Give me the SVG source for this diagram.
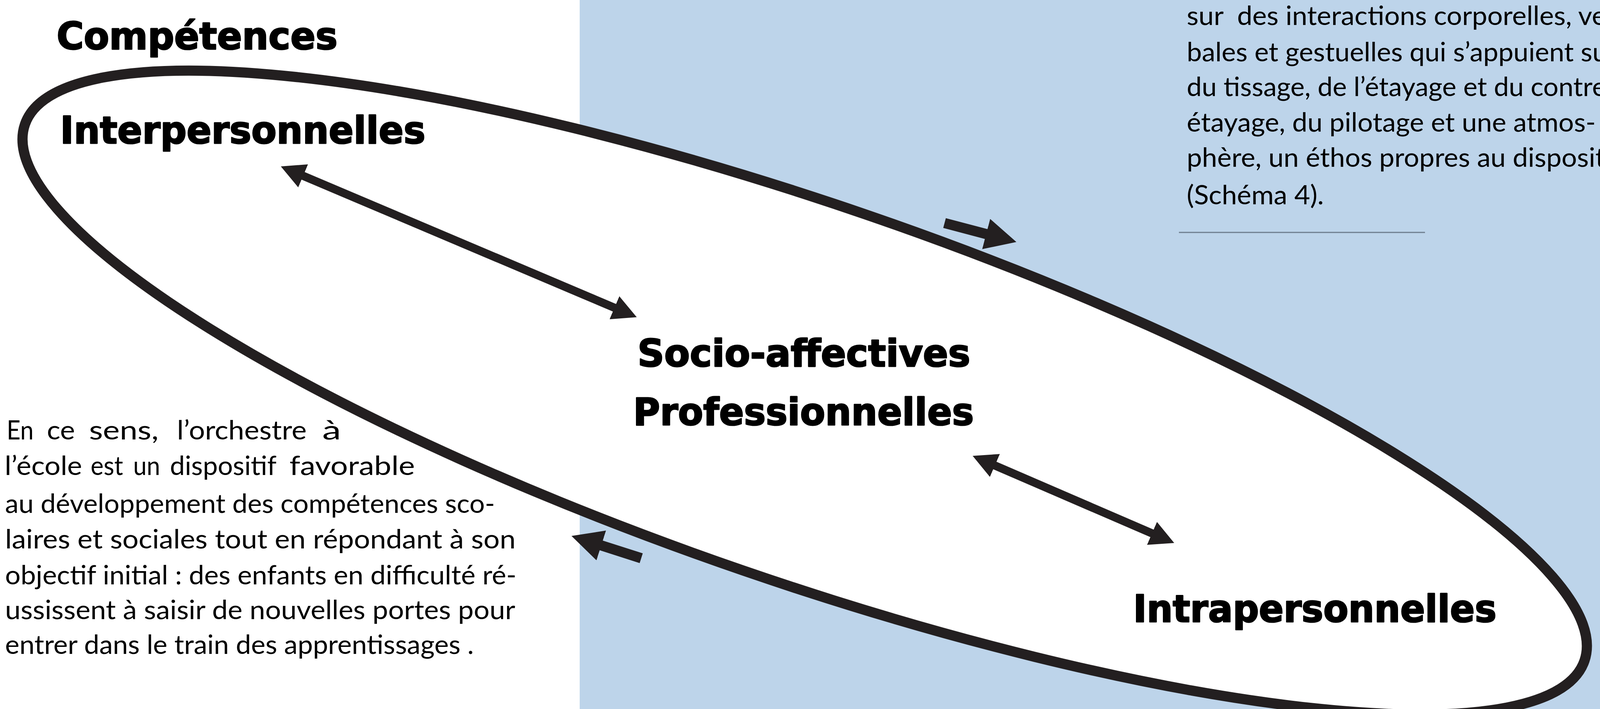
<svg xmlns="http://www.w3.org/2000/svg" width="4109" height="1815" viewBox="0 0 4109 1815">
<defs>
<style>
.bg{fill:#ffffff}
.panel{fill:#BDD4EA}
.ring{fill:#ffffff;stroke:#231F20;stroke-width:26}
.lbl{font-family:"DejaVu Sans","Liberation Sans",sans-serif;font-weight:bold;font-size:96px;fill:#000000;stroke:#000000;stroke-width:3.2;stroke-linejoin:round}
.body{font-family:Lato,"Open Sans","Liberation Sans",sans-serif;font-size:68px;fill:#000000;white-space:pre}
.shaft{stroke:#231F20;stroke-width:21;fill:none}
.shaftL{stroke:#231F20;stroke-width:26;fill:none}
.rule{stroke:#6F7E8E;stroke-width:3}
.head{fill:#231F20}
</style>
<marker id="hs" markerUnits="userSpaceOnUse" viewBox="0 0 62 64" refX="2" refY="32" markerWidth="62" markerHeight="64" orient="auto-start-reverse"><path class="head" d="M0,0 L62,32 L0,64 Z"/></marker>
<marker id="hl" markerUnits="userSpaceOnUse" viewBox="0 0 80 80" refX="2" refY="40" markerWidth="80" markerHeight="80" orient="auto"><path class="head" d="M0,0 L80,40 L0,80 Z"/></marker>
</defs>
<rect class="bg" x="0" y="0" width="4109" height="1815"/>
<rect class="panel" x="1484" y="0" width="2625" height="1815"/>
<g id="text-right">
<text class="body" x="3038" y="64" textLength="1074" lengthAdjust="spacingAndGlyphs">sur  des interactions corporelles, ve</text>
<text class="body" x="3038" y="157" textLength="1077" lengthAdjust="spacingAndGlyphs">bales et gestuelles qui s’appuient su</text>
<text class="body" x="3038" y="246" textLength="1074" lengthAdjust="spacingAndGlyphs">du tissage, de l’étayage et du contre</text>
<text class="body" x="3038" y="337" textLength="1047" lengthAdjust="spacingAndGlyphs">étayage, du pilotage et une atmos-</text>
<text class="body" x="3038" y="427" textLength="1071" lengthAdjust="spacingAndGlyphs">phère, un éthos propres au disposit</text>
<text class="body" x="3038" y="523" textLength="351" lengthAdjust="spacingAndGlyphs">(Schéma 4).</text>
<line class="rule" x1="3018" y1="595" x2="3648" y2="595"/>
</g>
<g id="ellipse">
<ellipse class="ring" cx="2060" cy="1005" rx="2111" ry="482" transform="rotate(18.98 2060 1005)"/>
</g>
<g id="n-competences"><text class="lbl" x="145" y="126" textLength="719" lengthAdjust="spacingAndGlyphs">Compétences</text></g>
<g id="n-interpersonnelles"><text class="lbl" x="154" y="367" textLength="935" lengthAdjust="spacingAndGlyphs">Interpersonnelles</text></g>
<g id="n-socio-professionnelles">
<text class="lbl" x="1632" y="938" textLength="852" lengthAdjust="spacingAndGlyphs">Socio-affectives</text>
<text class="lbl" x="1621" y="1088" textLength="872" lengthAdjust="spacingAndGlyphs">Professionnelles</text>
</g>
<g id="n-intrapersonnelles"><text class="lbl" x="2901" y="1592" textLength="930" lengthAdjust="spacingAndGlyphs">Intrapersonnelles</text></g>
<g id="connectors">
<line class="shaft" x1="774.2" y1="449.4" x2="1574.8" y2="788.6" marker-start="url(#hs)" marker-end="url(#hs)"/>
<line class="shaft" x1="2545.1" y1="1190.8" x2="2950.9" y2="1366.2" marker-start="url(#hs)" marker-end="url(#hs)"/>
<line class="shaftL" x1="2418" y1="571" x2="2526.5" y2="599.6" marker-end="url(#hl)"/>
<line class="shaftL" x1="1641.5" y1="1429" x2="1537.3" y2="1395.7" marker-end="url(#hl)"/>
</g>
<g id="text-left">
<text class="body" x="17" y="1125" textLength="69" lengthAdjust="spacingAndGlyphs">En</text>
<text class="body" x="120" y="1125" textLength="72" lengthAdjust="spacingAndGlyphs">ce</text>
<text class="body" x="228" y="1125" textLength="178" lengthAdjust="spacingAndGlyphs">sens,</text>
<text class="body" x="453" y="1125" textLength="332" lengthAdjust="spacingAndGlyphs">l’orchestre</text>
<text class="body" x="825" y="1125" textLength="48" lengthAdjust="spacingAndGlyphs">à</text>
<text class="body" x="12" y="1216" textLength="198" lengthAdjust="spacingAndGlyphs">l’école</text>
<text class="body" x="232" y="1216" textLength="83" lengthAdjust="spacingAndGlyphs">est</text>
<text class="body" x="341" y="1216" textLength="69" lengthAdjust="spacingAndGlyphs">un</text>
<text class="body" x="435" y="1216" textLength="273" lengthAdjust="spacingAndGlyphs">dispositif</text>
<text class="body" x="741" y="1216" textLength="321" lengthAdjust="spacingAndGlyphs">favorable</text>
<text class="body" x="13" y="1313" textLength="1254" lengthAdjust="spacingAndGlyphs">au développement des compétences sco-</text>
<text class="body" x="13" y="1404" textLength="1307" lengthAdjust="spacingAndGlyphs">laires et sociales tout en répondant à son</text>
<text class="body" x="13" y="1496" textLength="1309" lengthAdjust="spacingAndGlyphs">objectif initial : des enfants en difficulté ré-</text>
<text class="body" x="13" y="1585" textLength="1306" lengthAdjust="spacingAndGlyphs">ussissent à saisir de nouvelles portes pour</text>
<text class="body" x="13" y="1674" textLength="1200" lengthAdjust="spacingAndGlyphs">entrer dans le train des apprentissages .</text>
</g>
</svg>
